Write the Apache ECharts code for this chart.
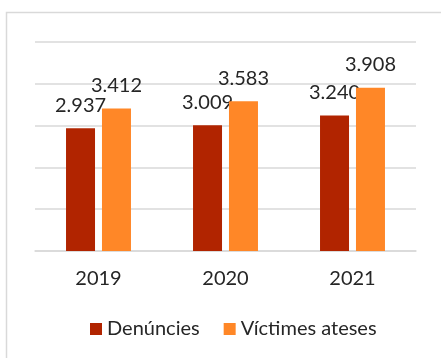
<!DOCTYPE html>
<html>
<head>
<meta charset="utf-8">
<script src="https://cdn.jsdelivr.net/npm/echarts@6/dist/echarts.min.js"></script>
<style>
  html, body { margin: 0; padding: 0; background: #ffffff; }
  #chart { width: 441px; height: 358px; }
</style>
</head>
<body>
<div id="chart"></div>
<script>
// Years shown on the category axis
const years = ['2019', '2020', '2021'];
// Reports filed and people assisted, per year
const denuncies = [2937, 3009, 3240];
const victimes = [3412, 3583, 3908];
// Series names for the legend
const seriesNames = ['Denúncies', 'Víctimes ateses'];

const FONT = 'Lato';
const TEXT = '#262626';

// Catalan thousands separator: 3240 -> "3.240"
function fmt(v) {
  return String(v).replace(/\B(?=(\d{3})+(?!\d))/g, '.');
}

const chart = echarts.init(document.getElementById('chart'), null, { renderer: 'canvas' });

chart.setOption({
  animation: false,
  backgroundColor: '#ffffff',
  graphic: [{
    type: 'rect',
    silent: true,
    z: -10,
    shape: { x: 6.5, y: 12.5, width: 460, height: 380 },
    style: { fill: 'none', stroke: '#d9d9d9', lineWidth: 1.5 }
  }],
  grid: { left: 35, right: 25, top: 42, bottom: 107, containLabel: false },
  legend: {
    data: seriesNames,
    left: 90,
    top: 319,
    padding: 0,
    icon: 'rect',
    itemWidth: 12,
    itemHeight: 12,
    itemGap: 24,
    textStyle: { fontFamily: FONT, fontSize: 20, color: TEXT }
  },
  xAxis: {
    type: 'category',
    data: years,
    axisLine: { lineStyle: { color: '#d9d9d9', width: 1.5 } },
    axisTick: { show: false },
    axisLabel: { fontFamily: FONT, fontSize: 20, color: TEXT, margin: 18 }
  },
  yAxis: {
    type: 'value',
    min: 0,
    max: 5000,
    interval: 1000,
    axisLabel: { show: false },
    axisLine: { show: false },
    axisTick: { show: false },
    splitLine: { lineStyle: { color: '#d9d9d9', width: 1.5 } }
  },
  series: [
    {
      name: seriesNames[0],
      type: 'bar',
      data: denuncies,
      barWidth: 29,
      barGap: '24%',
      z: 2,
      itemStyle: { color: '#b12400' },
      label: {
        show: true,
        position: 'top',
        distance: 13,
        fontFamily: FONT,
        fontSize: 20,
        color: TEXT,
        formatter: p => fmt(p.value)
      }
    },
    {
      name: seriesNames[1],
      type: 'bar',
      data: victimes,
      barWidth: 29,
      z: 3,
      itemStyle: { color: '#ff8727' },
      label: {
        show: true,
        position: 'top',
        distance: 13,
        fontFamily: FONT,
        fontSize: 20,
        color: TEXT,
        formatter: p => fmt(p.value)
      }
    }
  ]
});
</script>
</body>
</html>
